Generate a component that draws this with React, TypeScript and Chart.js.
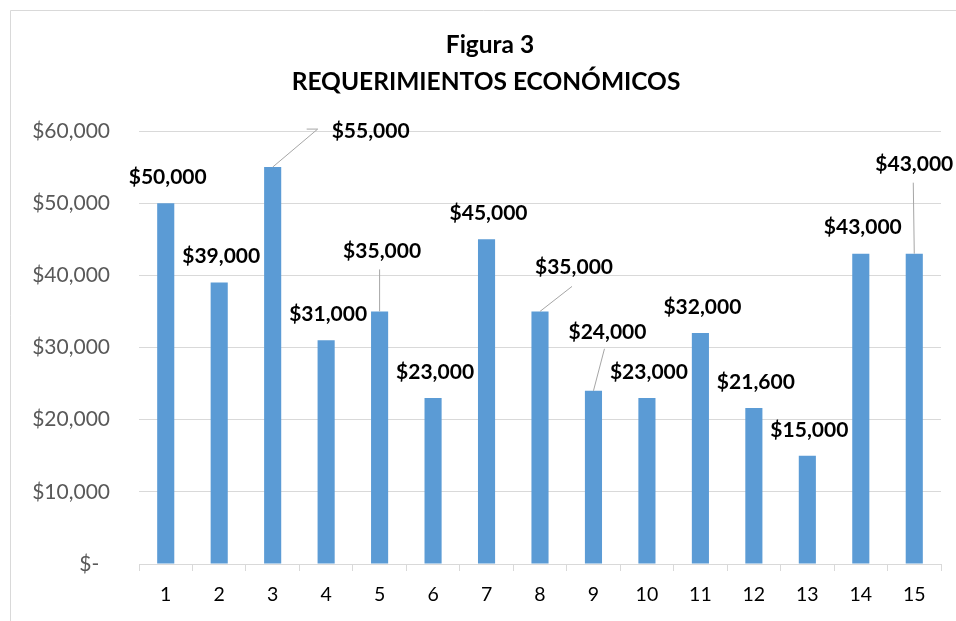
import React, { useEffect, useRef } from "react";
import { Chart, registerables } from "chart.js";

Chart.register(...registerables);

const categories = ["1", "2", "3", "4", "5", "6", "7", "8", "9", "10", "11", "12", "13", "14", "15"];
const requerimientos = [50000, 39000, 55000, 31000, 35000, 23000, 45000, 35000, 24000, 23000, 32000, 21600, 15000, 43000, 43000];
const yTickValues = [0, 10000, 20000, 30000, 40000, 50000, 60000];
const titleLines = ["Figura 3", "REQUERIMIENTOS ECONÓMICOS"];

// label placement relative to bar top (dx, dy) and optional leader line (relative to label center)
const labelOffsets: Record<number, { dx: number; dy: number; leader?: [number, number][] }> = {
  2: { dx: 98, dy: -36, leader: [[-64, -2], [-53, -2]] },
  4: { dx: 2.5, dy: -60, leader: [[-2.5, 18]] },
  7: { dx: 34, dy: -44, leader: [[-2, 19]] },
  8: { dx: 14, dy: -59, leader: [[-3, 17]] },
  14: { dx: 0, dy: -89, leader: [[-1, 18]] },
};
const defaultOffset = { dx: 2, dy: -26 };

const fmt = (v: number) => (v === 0 ? "$-  " : "$" + v.toLocaleString("en-US"));

const framePlugin = {
  id: "frame",
  beforeDraw(chart: any) {
    const { ctx, width, height } = chart;
    ctx.save();
    ctx.fillStyle = "#ffffff";
    ctx.fillRect(0, 0, width, height);
    ctx.strokeStyle = "#d9d9d9";
    ctx.lineWidth = 1;
    ctx.beginPath();
    ctx.moveTo(10.5, height);
    ctx.lineTo(10.5, 10.5);
    ctx.lineTo(width, 10.5);
    ctx.stroke();
    ctx.fillStyle = "#000000";
    ctx.font = "bold 24.5px Lato";
    ctx.textAlign = "center";
    ctx.textBaseline = "middle";
    ctx.fillText(titleLines[0], 490, 45);
    ctx.fillText(titleLines[1], 486, 82);
    ctx.restore();
  },
};

const labelPlugin = {
  id: "valueLabels",
  afterDatasetsDraw(chart: any) {
    const { ctx } = chart;
    const meta = chart.getDatasetMeta(0);
    ctx.save();
    ctx.font = "bold 21px Lato";
    ctx.textAlign = "center";
    ctx.textBaseline = "middle";
    meta.data.forEach((bar: any, i: number) => {
      const off = labelOffsets[i] || defaultOffset;
      const lx = bar.x + off.dx;
      const ly = bar.y + off.dy;
      if (off.leader) {
        ctx.strokeStyle = "#a6a6a6";
        ctx.lineWidth = 1;
        ctx.beginPath();
        ctx.moveTo(bar.x, bar.y);
        const pts = [...off.leader].reverse();
        pts.forEach(([px, py]) => ctx.lineTo(lx + px, ly + py));
        ctx.stroke();
      }
      ctx.fillStyle = "#000000";
      ctx.fillText(fmt(requerimientos[i]), lx, ly);
    });
    ctx.restore();
  },
};

export default function App() {
  const ref = useRef<HTMLCanvasElement | null>(null);
  useEffect(() => {
    document.body.style.margin = "0";
    const canvas = ref.current;
    if (!canvas) return;
    const chart = new Chart(canvas, {
      type: "bar",
      data: {
        labels: categories,
        datasets: [
          {
            data: requerimientos,
            backgroundColor: "#5b9bd5",
            barPercentage: 0.32,
            categoryPercentage: 1,
          },
        ],
      },
      options: {
        responsive: false,
        animation: false,
        devicePixelRatio: 1,
        layout: { padding: { left: 0, right: 15, top: 131, bottom: 0 } },
        plugins: {
          legend: { display: false },
          title: { display: false },
          tooltip: { enabled: false },
        },
        scales: {
          x: {
            grid: {
              offset: true,
              drawOnChartArea: false,
              drawTicks: true,
              tickLength: 7,
              color: "#d9d9d9",
            },
            border: { color: "#d9d9d9", width: 1 },
            ticks: {
              color: "#000000",
              font: { family: "Lato", size: 19.5 },
              padding: 12,
              maxRotation: 0,
            },
            afterFit(scale: any) {
              scale.height = 57;
            },
          },
          y: {
            min: 0,
            max: 60000,
            afterBuildTicks(scale: any) {
              scale.ticks = yTickValues.map((v) => ({ value: v }));
            },
            grid: { color: "#d9d9d9", drawTicks: false, lineWidth: 1 },
            border: { display: false },
            ticks: {
              color: "#595959",
              font: { family: "Lato", size: 21 },
              padding: 29,
              callback: (v: any) => fmt(Number(v)),
            },
            afterFit(scale: any) {
              scale.width = 139;
            },
          },
        },
      },
      plugins: [framePlugin, labelPlugin],
    });
    return () => chart.destroy();
  }, []);
  return (
    <div style={{ width: 956, height: 621, overflow: "hidden" }}>
      <canvas ref={ref} width={956} height={621} style={{ display: "block" }} />
    </div>
  );
}
